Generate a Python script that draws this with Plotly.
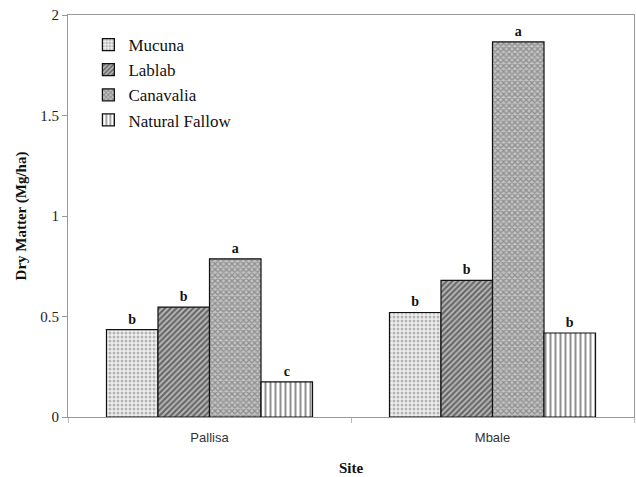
import plotly.graph_objects as go

# Dry matter yield by site and fallow species
sites = ["Pallisa", "Mbale"]
species = ["Mucuna", "Lablab", "Canavalia", "Natural Fallow"]
mucuna = [0.435, 0.52]
lablab = [0.547, 0.68]
canavalia = [0.787, 1.866]
natural_fallow = [0.175, 0.418]
mucuna_grp = ["b", "b"]
lablab_grp = ["b", "b"]
canavalia_grp = ["a", "a"]
natural_fallow_grp = ["c", "b"]

values = [mucuna, lablab, canavalia, natural_fallow]
groups = [mucuna_grp, lablab_grp, canavalia_grp, natural_fallow_grp]

patterns = [
    dict(shape=".", fgcolor="#777777", bgcolor="#f0f0f0", size=4, solidity=0.45),
    dict(shape="/", fgcolor="#111111", bgcolor="#bdbdbd", size=4, solidity=0.55),
    dict(shape="x", fgcolor="#5a5a5a", bgcolor="#c4c4c4", size=4, solidity=0.55),
    dict(shape="|", fgcolor="#202020", bgcolor="#ffffff", size=5, solidity=0.4),
]

serif = "Liberation Serif, Times New Roman, serif"

fig = go.Figure()
for name, vals, grp, pat in zip(species, values, groups, patterns):
    fig.add_trace(go.Bar(
        x=sites, y=vals, name=name,
        text=grp, textposition="outside",
        textfont=dict(family=serif, size=14, color="#111111", weight="bold"),
        marker=dict(color=pat["bgcolor"], pattern=pat,
                    line=dict(color="#111111", width=1.2)),
        cliponaxis=False,
    ))

fig.update_layout(
    width=636, height=477,
    margin=dict(l=68, r=2, t=15, b=60),
    paper_bgcolor="white", plot_bgcolor="white",
    barmode="group", bargap=0.272, bargroupgap=0,
    showlegend=True,
    legend=dict(x=0.036, y=0.97, xanchor="left", yanchor="top",
                font=dict(family=serif, size=17, color="#111111"),
                bgcolor="rgba(0,0,0,0)", itemwidth=30, tracegroupgap=0),
    font=dict(family=serif, color="#111111"),
)
fig.update_xaxes(
    showline=True, linecolor="#999999", linewidth=1, mirror=True,
    ticks="outside", tickson="boundaries", ticklen=5, tickcolor="#bbbbbb",
    ticklabelstandoff=8,
    tickfont=dict(family="Liberation Sans, Arial, sans-serif", size=13, color="#333333"),
    title=dict(text="<b>Site</b>", font=dict(family=serif, size=15, color="#111111"), standoff=18),
    showgrid=False,
)
fig.update_yaxes(
    range=[0, 2], tickvals=[0, 0.5, 1, 1.5, 2], ticktext=["0", "0.5", "1", "1.5", "2"],
    showline=True, linecolor="#999999", linewidth=1, mirror=True,
    ticks="outside", ticklen=5, tickcolor="#999999",
    tickfont=dict(family=serif, size=15, color="#222222"),
    title=dict(text="<b>Dry Matter (Mg/ha)</b>", font=dict(family=serif, size=15, color="#111111"), standoff=10),
    showgrid=False, zeroline=False,
)

fig.write_html("out.html")
